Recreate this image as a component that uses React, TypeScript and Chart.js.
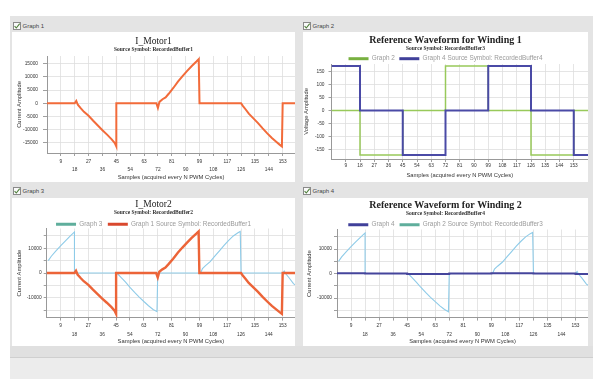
import React, { useEffect, useRef } from 'react';
import { Chart, registerables } from 'chart.js';
Chart.register(...registerables);

// ---------- data ----------
const xTickValues = [9, 18, 27, 36, 45, 54, 63, 72, 81, 90, 99, 108, 117, 126, 135, 144, 153];
const current1Ticks = [-15000, -10000, -5000, 0, 5000, 10000, 15000];
const current2Ticks = [-15000, -10000, -5000, 0, 5000, 10000, 15000];
const voltageTicks = [-150, -100, -50, 0, 50, 100, 150];

// I_Motor1 (Graph 1, RecordedBuffer1)
const motor1Samples = [0, 18, 19, 20, 22, 24, 27, 30, 33, 36, 39, 42, 44, 45, 45, 71, 72, 73, 75, 77, 79, 82, 85, 88, 91, 94, 97, 98.5, 99, 126, 127, 129, 131, 134, 137, 140, 143, 146, 149, 151, 152.5, 153, 161];
const motor1Values = [0, 0, 900, -600, -2000, -3300, -4800, -6700, -8500, -10300, -12000, -13800, -15200, -16500, 0, 0, -1800, 500, 1500, 2200, 3600, 5800, 8200, 10300, 12300, 14200, 15900, 16800, 0, 0, -900, -2400, -4000, -5800, -7600, -9600, -11500, -13300, -14800, -15800, -16500, 0, 0];

// I_Motor2 (Graph 3, RecordedBuffer2)
const motor2Samples = [1, 3, 6, 9, 12, 15, 18, 18, 45, 46, 48, 51, 54, 57, 60, 63, 66, 69, 71.5, 72, 99, 100, 101, 103, 106, 109, 112, 115, 118, 121, 124, 125.5, 126, 153, 154, 155, 157, 160, 161];
const motor2Values = [5000, 6800, 9000, 11000, 12900, 14800, 16600, 0, 0, -300, -1600, -3600, -5800, -7800, -9700, -11500, -13200, -14700, -15600, 0, 0, 300, 1800, 3000, 4600, 6800, 9000, 11200, 13200, 15000, 16300, 16800, 0, 0, 800, -300, -1800, -4300, -4800];

// Reference waveform, winding 1 (Graph 2, RecordedBuffer3)
const ref1Samples = [0, 18, 18, 45, 45, 72, 72, 99, 99, 126, 126, 153, 153, 162];
const ref1Values = [0, 0, -170, -170, 0, 0, 170, 170, 0, 0, -170, -170, 0, 0];

// Reference waveform, winding 2 (Graph 4, RecordedBuffer4)
const ref2Samples = [0, 18, 18, 45, 45, 72, 72, 99, 99, 126, 126, 153, 153, 162];
const ref2Values = [170, 170, 0, 0, -170, -170, 0, 0, 170, 170, 0, 0, -170, -170];

const xTitle = 'Samples (acquired every N PWM Cycles)';

// ---------- helpers ----------
const SANS = '"Liberation Sans", Arial, sans-serif';
const SERIF = '"Liberation Serif", "Times New Roman", serif';

type Series = {
  label: string;
  samples: number[];
  values: number[];
  color: string;
  legendColor: string;
  width: number;
  order: number;
};

type PanelSpec = {
  left: number; top: number; width: number; height: number;
  title: string; titleBold: boolean; titleSize: number; titlePadTop: number;
  subtitle: string; subPadTop: number; subPadBottom: number;
  legend: boolean; legendPad: number; legendHeight: number;
  series: Series[];
  yTicks: number[]; yMin: number; yMax: number; yLabelStep: number; yTitle: string;
  yWidth: number; yTickLen: number; yTickPad: number; yTitlePad: number;
  xMax: number; staggered: boolean; xHeight: number; xTitlePad: number;
};

function ChartPanel({ spec }: { spec: PanelSpec }) {
  const ref = useRef<HTMLCanvasElement | null>(null);
  useEffect(() => {
    const canvas = ref.current;
    if (!canvas) return;
    const s = spec;
    const chart = new Chart(canvas, {
      type: 'line',
      data: {
        datasets: s.series.map((se) => ({
          label: se.label,
          data: se.samples.map((x, i) => ({ x, y: se.values[i] })),
          borderColor: se.color,
          backgroundColor: se.legendColor,
          borderWidth: se.width,
          pointRadius: 0,
          tension: 0,
          fill: false,
          order: se.order,
        })),
      },
      options: {
        responsive: false,
        animation: false,
        devicePixelRatio: 1,
        events: [],
        layout: { padding: 0 },
        plugins: {
          tooltip: { enabled: false },
          title: {
            display: true,
            text: s.title,
            color: '#222',
            font: { family: SERIF, size: s.titleSize, weight: s.titleBold ? 'bold' : 'normal', lineHeight: 1 },
            padding: { top: s.titlePadTop, bottom: 0 },
          },
          subtitle: {
            display: true,
            text: s.subtitle,
            color: '#333',
            font: { family: SERIF, size: 5.5, weight: 'bold', lineHeight: 1 },
            padding: { top: s.subPadTop, bottom: s.subPadBottom },
          },
          legend: {
            display: s.legend,
            position: 'top',
            align: 'center',
            maxHeight: s.legendHeight,
            labels: {
              boxWidth: 20,
              boxHeight: 3,
              padding: s.legendPad,
              color: '#9a9a9a',
              font: { family: SANS, size: 6.4 },
              generateLabels: (c: any) =>
                c.data.datasets.map((d: any, i: number) => ({
                  text: d.label,
                  fillStyle: d.backgroundColor,
                  strokeStyle: d.backgroundColor,
                  lineWidth: 0,
                  hidden: false,
                  datasetIndex: i,
                  fontColor: '#9a9a9a',
                })),
            },
          },
        },
        scales: {
          x: {
            type: 'linear',
            min: 0,
            max: s.xMax,
            afterBuildTicks: (axis: any) => {
              axis.ticks = xTickValues.map((v) => ({ value: v }));
            },
            afterFit: (axis: any) => {
              axis.height = s.xHeight;
            },
            ticks: {
              autoSkip: false,
              maxRotation: 0,
              minRotation: 0,
              padding: 1,
              color: '#333',
              font: { family: SANS, size: 4.8, lineHeight: s.staggered ? 1.75 : 1.2 },
              callback: (v: any) => {
                const n = Number(v);
                if (s.staggered && (n / 9) % 2 === 0) return ['', String(n)];
                return String(n);
              },
            },
            grid: { color: '#dedede', lineWidth: 0.8, tickLength: 3, tickColor: '#888' },
            border: { color: '#999', width: 1 },
            title: {
              display: true,
              text: xTitle,
              color: '#333',
              font: { family: SANS, size: 5.8 },
              padding: { top: 0, bottom: s.xTitlePad },
            },
          },
          y: {
            type: 'linear',
            min: s.yMin,
            max: s.yMax,
            afterBuildTicks: (axis: any) => {
              axis.ticks = s.yTicks.map((v) => ({ value: v }));
            },
            afterFit: (axis: any) => {
              axis.width = s.yWidth;
            },
            ticks: {
              padding: s.yTickPad,
              color: '#333',
              font: { family: SANS, size: 4.8 },
              callback: (v: any) => (Number(v) % s.yLabelStep === 0 ? String(v) : ''),
            },
            grid: { color: '#dedede', lineWidth: 0.8, tickLength: s.yTickLen, tickColor: '#888' },
            border: { color: '#999', width: 1 },
            title: {
              display: true,
              text: s.yTitle,
              color: '#333',
              font: { family: SANS, size: 5.8 },
              padding: { top: s.yTitlePad, bottom: 0 },
            },
          },
        },
      } as any,
    });
    return () => chart.destroy();
  }, [spec]);
  return (
    <div style={{ position: 'absolute', left: spec.left, top: spec.top, width: spec.width, height: spec.height, background: '#fff' }}>
      <canvas ref={ref} width={spec.width} height={spec.height} style={{ display: 'block', width: spec.width, height: spec.height }} />
    </div>
  );
}

function Header({ left, top, label }: { left: number; top: number; label: string }) {
  return (
    <div style={{ position: 'absolute', left, top, height: 9, display: 'flex', alignItems: 'center', fontFamily: SANS, fontSize: 6, color: '#444', whiteSpace: 'nowrap' }}>
      <svg width="8" height="8" style={{ display: 'block' }}>
        <rect x="0.5" y="0.5" width="7" height="7" fill="#fafafa" stroke="#8a8a8a" />
        <path d="M1.6 4.1 L3.3 6 L6.7 1.6" stroke="#4f7f3a" fill="none" strokeWidth="1.1" />
      </svg>
      <span style={{ marginLeft: 1.5 }}>{label}</span>
    </div>
  );
}

const panel1: PanelSpec = {
  left: 12, top: 32, width: 283, height: 150,
  title: 'I_Motor1', titleBold: false, titleSize: 9.5, titlePadTop: 5,
  subtitle: 'Source Symbol: RecordedBuffer1', subPadTop: 0.5, subPadBottom: 3.5,
  legend: false, legendPad: 0, legendHeight: 0,
  series: [{ label: 'Graph 1', samples: motor1Samples, values: motor1Values, color: '#f26b3a', legendColor: '#e0502c', width: 2, order: 0 }],
  yTicks: current1Ticks, yMin: -19000, yMax: 18000, yLabelStep: 5000, yTitle: 'Current Amplitude',
  yWidth: 35, yTickLen: 4, yTickPad: 5, yTitlePad: 4.4,
  xMax: 161, staggered: true, xHeight: 29, xTitlePad: 1,
};

const panel2: PanelSpec = {
  left: 303, top: 32, width: 285, height: 150,
  title: 'Reference Waveform for Winding 1', titleBold: true, titleSize: 10, titlePadTop: 3,
  subtitle: 'Source Symbol: RecordedBuffer3', subPadTop: 0.5, subPadBottom: 0,
  legend: true, legendPad: 4.5, legendHeight: 13,
  series: [
    { label: 'Graph 2', samples: ref1Samples, values: ref1Values, color: '#98c95a', legendColor: '#78b040', width: 1.5, order: 1 },
    { label: 'Graph 4 Source Symbol: RecordedBuffer4', samples: ref2Samples, values: ref2Values, color: '#4a4aa6', legendColor: '#40409a', width: 2, order: 0 },
  ],
  yTicks: voltageTicks, yMin: -185, yMax: 178, yLabelStep: 50, yTitle: 'Voltage Amplitude',
  yWidth: 28.5, yTickLen: 3, yTickPad: 4, yTitlePad: 0,
  xMax: 162, staggered: false, xHeight: 23, xTitlePad: 3,
};

const panel3: PanelSpec = {
  left: 12, top: 198, width: 283, height: 148,
  title: 'I_Motor2', titleBold: false, titleSize: 9.5, titlePadTop: 1.5,
  subtitle: 'Source Symbol: RecordedBuffer2', subPadTop: 1, subPadBottom: 0,
  legend: true, legendPad: 5.5, legendHeight: 13,
  series: [
    { label: 'Graph 3', samples: motor2Samples, values: motor2Values, color: '#8ecbe8', legendColor: '#5fae9c', width: 1.1, order: 1 },
    { label: 'Graph 1 Source Symbol: RecordedBuffer1', samples: motor1Samples, values: motor1Values, color: '#ec6438', legendColor: '#d9482e', width: 2.4, order: 0 },
  ],
  yTicks: current2Ticks, yMin: -18000, yMax: 18000, yLabelStep: 10000, yTitle: 'Current Amplitude',
  yWidth: 34.7, yTickLen: 3, yTickPad: 2, yTitlePad: 4.4,
  xMax: 161, staggered: true, xHeight: 28.4, xTitlePad: 1,
};

const panel4: PanelSpec = {
  left: 303, top: 198, width: 285, height: 148,
  title: 'Reference Waveform for Winding 2', titleBold: true, titleSize: 10, titlePadTop: 2,
  subtitle: 'Source Symbol: RecordedBuffer4', subPadTop: 1, subPadBottom: 0,
  legend: true, legendPad: 5, legendHeight: 13,
  series: [
    { label: 'Graph 4', samples: ref2Samples, values: ref2Values, color: '#45459c', legendColor: '#40409a', width: 2, order: 0 },
    { label: 'Graph 2 Source Symbol: RecordedBuffer3', samples: motor2Samples, values: motor2Values, color: '#8ecbe8', legendColor: '#5fae9c', width: 1.1, order: 1 },
  ],
  yTicks: current2Ticks, yMin: -18000, yMax: 18000, yLabelStep: 10000, yTitle: 'Current Amplitude',
  yWidth: 34, yTickLen: 3, yTickPad: 2, yTitlePad: 2.5,
  xMax: 161, staggered: true, xHeight: 28.4, xTitlePad: 1,
};

export default function App() {
  return (
    <div style={{ position: 'absolute', left: 0, top: 0, width: 599, height: 379, background: '#fff', overflow: 'hidden', filter: 'blur(0.3px)' }}>
      <div style={{ position: 'absolute', left: 10, top: 16, width: 583, height: 363, background: '#e4e4e4' }} />
      <div style={{ position: 'absolute', left: 10, top: 346, width: 583, height: 11, background: '#e0e0e0' }} />
      <div style={{ position: 'absolute', left: 10, top: 357, width: 583, height: 1, background: '#cfcfcf' }} />
      <div style={{ position: 'absolute', left: 10, top: 358, width: 583, height: 21, background: '#ececec' }} />
      <Header left={13} top={21} label="Graph 1" />
      <Header left={303} top={21} label="Graph 2" />
      <Header left={13} top={186} label="Graph 3" />
      <Header left={303} top={186} label="Graph 4" />
      <ChartPanel spec={panel1} />
      <ChartPanel spec={panel2} />
      <ChartPanel spec={panel3} />
      <ChartPanel spec={panel4} />
    </div>
  );
}
